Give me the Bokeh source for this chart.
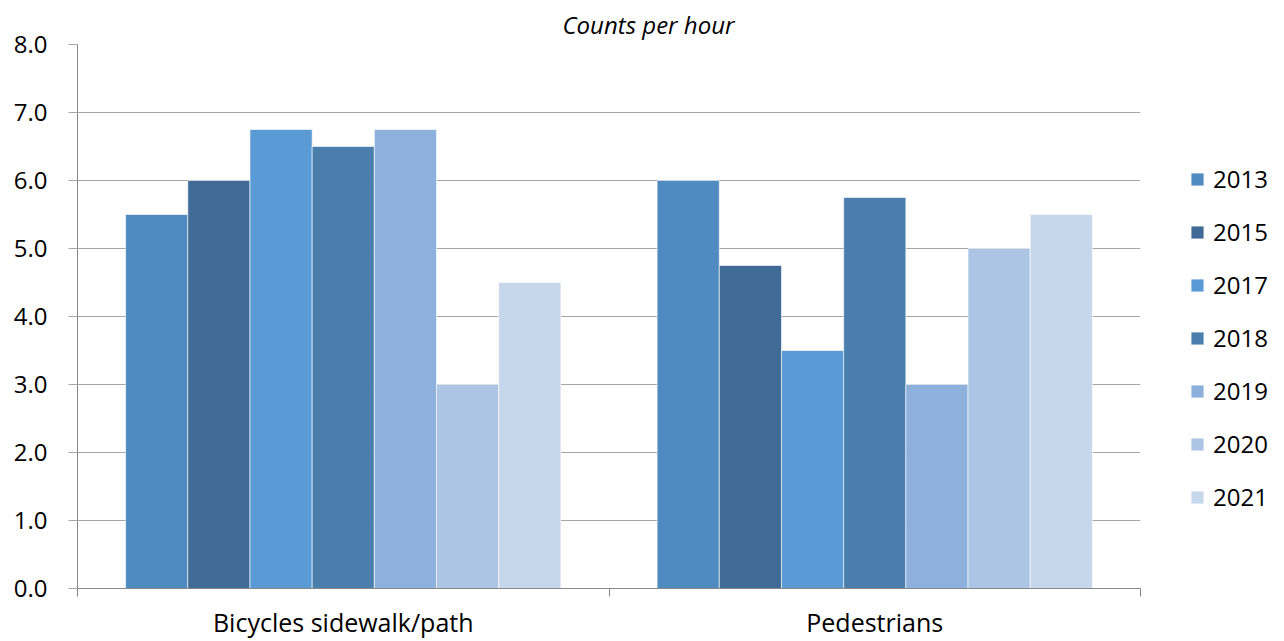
from bokeh.plotting import figure
from bokeh.models import (Range1d, FixedTicker, Legend, LegendItem, ColumnDataSource,
                          NumeralTickFormatter)
from bokeh.layouts import row
from bokeh.transform import dodge
from bokeh.embed import file_html
from bokeh.resources import INLINE

categories = ["Bicycles sidewalk/path", "Pedestrians"]
years = ["2013", "2015", "2017", "2018", "2019", "2020", "2021"]
bicycles = [5.5, 6.0, 6.75, 6.5, 6.75, 3.0, 4.5]
pedestrians = [6.0, 4.75, 3.5, 5.75, 3.0, 5.0, 5.5]
colors = ["#4F8BC1", "#3F6B96", "#5B9BD5", "#4A7EAD", "#8DB1DC", "#ADC5E4", "#C6D7EC"]
y_ticks = [0, 1, 2, 3, 4, 5, 6, 7, 8]

FONT = "Open Sans"
bar_w = 0.117

p = figure(width=1180, height=641, output_backend="svg", toolbar_location=None,
           x_range=Range1d(0, len(categories)), y_range=Range1d(0, 8),
           min_border_left=77, min_border_right=40, min_border_top=44, min_border_bottom=52)
p.outline_line_color = None
p.background_fill_color = "white"
p.border_fill_color = "white"

centers = [i + 0.5 for i in range(len(categories))]
for j, yr in enumerate(years):
    src = ColumnDataSource(dict(x=centers, top=[bicycles[j], pedestrians[j]]))
    p.vbar(x=dodge("x", (j - 3) * bar_w), top="top", bottom=0, width=bar_w, source=src,
           fill_color=colors[j], line_color="white", line_width=1, line_alpha=0.6)

# title
p.title.text = "Counts per hour"
p.title.align = "left"
p.title.offset = 485
p.title.text_font = FONT
p.title.text_font_style = "italic"
p.title.text_font_size = "24px"
p.title.text_color = "#000000"
p.title.standoff = 8

# y axis
p.yaxis.ticker = FixedTicker(ticks=y_ticks)
p.yaxis.formatter = NumeralTickFormatter(format="0.0")
p.yaxis.major_tick_out = 9
p.yaxis.major_tick_in = 0
p.yaxis.minor_tick_out = 0
p.yaxis.minor_tick_in = 0
p.yaxis.major_tick_line_color = "#A6A6A6"
p.yaxis.axis_line_color = "#888888"
p.yaxis.major_label_standoff = 21
p.yaxis.major_label_text_font = FONT
p.yaxis.major_label_text_font_size = "24px"
p.yaxis.major_label_text_color = "#000000"

# x axis
p.xaxis.ticker = FixedTicker(ticks=centers, minor_ticks=[0, 1, 2])
p.xaxis.major_label_overrides = {c: lab for c, lab in zip(centers, categories)}
p.xaxis.major_tick_out = 0
p.xaxis.major_tick_in = 0
p.xaxis.minor_tick_out = 8
p.xaxis.minor_tick_in = 0
p.xaxis.minor_tick_line_color = "#888888"
p.xaxis.axis_line_color = "#888888"
p.xaxis.major_label_standoff = 8
p.xaxis.major_label_text_font = FONT
p.xaxis.major_label_text_font_size = "25px"
p.xaxis.major_label_text_color = "#000000"

p.xgrid.grid_line_color = None
p.ygrid.grid_line_color = "#A6A6A6"
p.ygrid.grid_line_width = 1

# legend panel (separate figure to the right; zero-size swatch glyphs only)
lg = figure(width=100, height=641, output_backend="svg", toolbar_location=None,
            x_axis_type=None, y_axis_type=None, min_border=0,
            x_range=Range1d(0, 1), y_range=Range1d(0, 1))
lg.outline_line_color = None
lg.xgrid.grid_line_color = None
lg.ygrid.grid_line_color = None
items = []
for j, yr in enumerate(years):
    r = lg.vbar(x=[0.5], top=[0], bottom=[0], width=0, fill_color=colors[j],
                line_color="white", line_width=1, line_alpha=0.6)
    items.append(LegendItem(label=yr, renderers=[r]))

legend = Legend(items=items, location=(9, 75), orientation="vertical")
legend.glyph_width = 16
legend.glyph_height = 16
legend.label_text_font = FONT
legend.label_text_font_size = "24px"
legend.label_text_color = "#000000"
legend.label_standoff = 8
legend.spacing = 20
legend.padding = 0
legend.margin = 0
legend.border_line_color = None
legend.background_fill_alpha = 0
lg.add_layout(legend, "center")

layout = row(p, lg)
open("out.html", "w").write(file_html(layout, INLINE))
